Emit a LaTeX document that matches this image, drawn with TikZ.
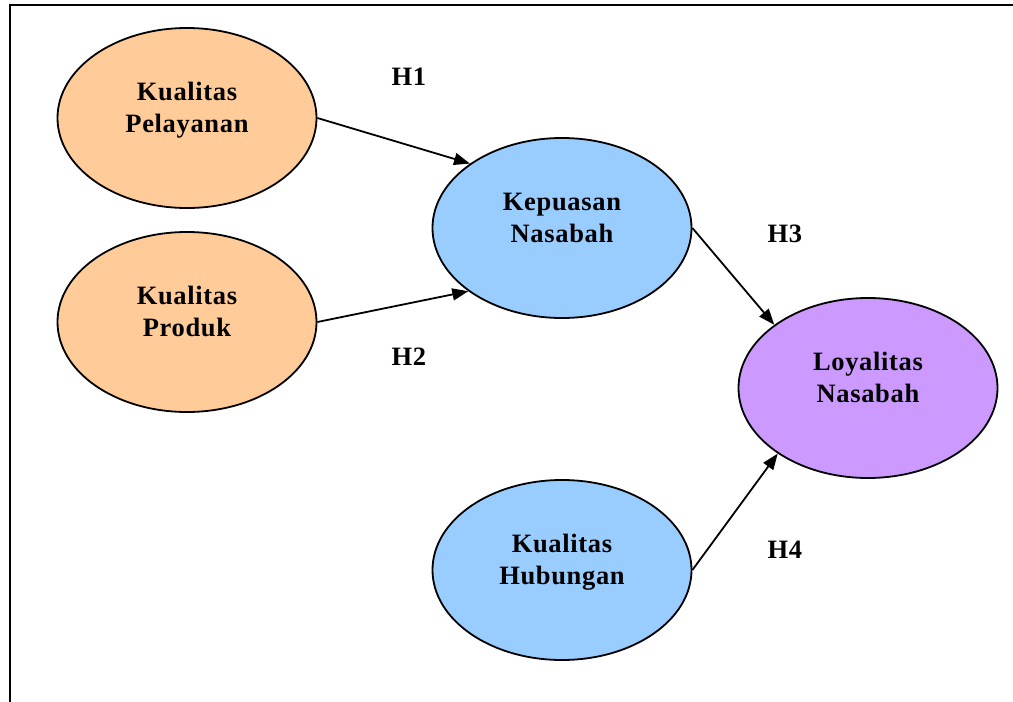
\documentclass[tikz,border=0pt]{standalone}
\usepackage{fontspec}
\setmainfont{Liberation Serif}[LetterSpace=2.5]
\usetikzlibrary{shapes.geometric,arrows.meta,calc}

\definecolor{peach}{HTML}{FFCC99}
\definecolor{skyblue}{HTML}{99CCFF}
\definecolor{lilac}{HTML}{CC99FF}

\tikzset{
  construct/.style={ellipse, draw=black, line width=1.8pt,
    minimum width=259pt, minimum height=180pt, inner sep=0pt},
  caption/.style={align=center, anchor=base,
    font=\bfseries\fontsize{26.5}{32}\selectfont},
  hyp/.style={font=\bfseries\fontsize{26.5}{32}\selectfont, inner sep=0pt},
  path/.style={draw=black, line width=1.8pt,
    -{Triangle[length=16pt,width=12pt]}},
}

\begin{document}
\begin{tikzpicture}[x=1pt,y=-1pt]
  \useasboundingbox (0,0) rectangle (1013,702);

  % open frame: left and top edges only
  \coordinate (fbl) at (10,704);
  \coordinate (ftl) at (10,5);
  \coordinate (ftr) at (1016,5);
  \draw[line width=2.2pt] (fbl) -- (ftl) -- (ftr);

  % constructs
  \node[construct, fill=peach]   (pel) at (187,118) {};
  \node[construct, fill=peach]   (pro) at (187,322) {};
  \node[construct, fill=skyblue] (kep) at (562,228) {};
  \node[construct, fill=lilac]   (loy) at (868,388) {};
  \node[construct, fill=skyblue] (hub) at (562,570) {};

  % construct names (base = baseline of the second line)
  \node[caption] (pelT) at ($(pel.center)+(0,14)$) {Kualitas\\Pelayanan};
  \node[caption] (proT) at ($(pro.center)+(0,14)$) {Kualitas\\Produk};
  \node[caption] (kepT) at ($(kep.center)+(0,14)$) {Kepuasan\\Nasabah};
  \node[caption] (loyT) at ($(loy.center)+(0,14)$) {Loyalitas\\Nasabah};
  \node[caption] (hubT) at ($(hub.center)+(0,14)$) {Kualitas\\Hubungan};

  % hypothesis paths
  \draw[path] (pel.east) -- (kep.145.5);
  \draw[path] (pro.east) -- (kep.214.5);
  \draw[path] (kep.east) -- (loy.146);
  \draw[path] (hub.east) -- (loy.216);

  % hypothesis labels
  \node[hyp] (h1) at (409,77)  {H1};
  \node[hyp] (h2) at (409,357) {H2};
  \node[hyp] (h3) at (785,234) {H3};
  \node[hyp] (h4) at (785,550) {H4};
\end{tikzpicture}
\end{document}
